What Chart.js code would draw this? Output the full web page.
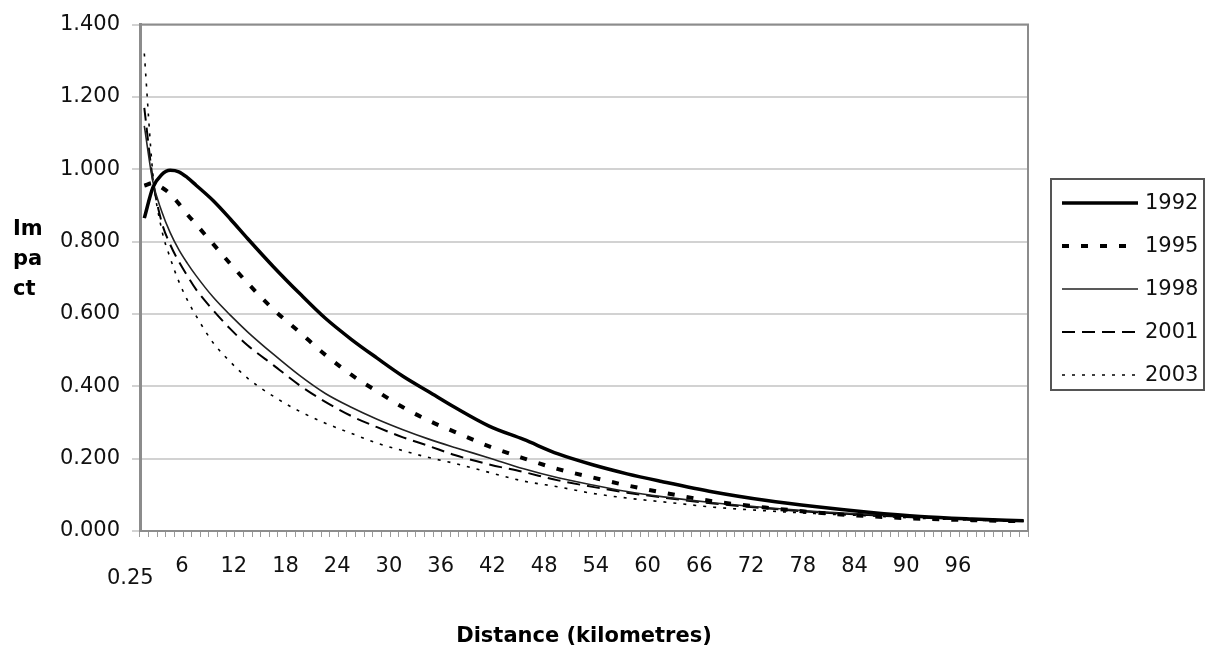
<!DOCTYPE html>
<html>
<head>
    <meta charset="utf-8">
    <title>Impact by distance</title>
    <script src="https://cdn.jsdelivr.net/npm/chart.js"></script>
    <style>
        body { margin: 0; background: #fff; }
        #wrap { position: relative; width: 1207px; height: 655px; }
    </style>
</head>
<body>
<div id="wrap">
    <canvas id="impactChart" width="1207" height="655"></canvas>
</div>
<script>
    // x axis categories (km)
    const distanceKm = ['0.25', '1', '2', '3', '4', '5', '6', '7', '8', '9', '10', '11', '12', '13', '14', '15', '16', '17', '18', '19',
        '20', '21', '22', '23', '24', '25', '26', '27', '28', '29', '30', '31', '32', '33', '34', '35', '36', '37', '38', '39',
        '40', '41', '42', '43', '44', '45', '46', '47', '48', '49', '50', '51', '52', '53', '54', '55', '56', '57', '58', '59',
        '60', '61', '62', '63', '64', '65', '66', '67', '68', '69', '70', '71', '72', '73', '74', '75', '76', '77', '78', '79',
        '80', '81', '82', '83', '84', '85', '86', '87', '88', '89', '90', '91', '92', '93', '94', '95', '96', '97', '98', '99',
        '100', '101', '102'];
    const labelEvery = 6;
    const lastLabelIndex = 96;

    const sampleKm = ['0.25', '1', '2', '3', '4', '5', '6', '8', '10', '12', '15', '18', '21', '24', '27', '30', '33', '36',
        '40', '44', '48', '52', '56', '60', '66', '72', '78', '84', '90', '96', '102'];

    const impact1992 = [0.865, 0.950, 0.985, 0.997, 0.993, 0.977, 0.956, 0.913, 0.862, 0.808, 0.730, 0.657, 0.588, 0.530, 0.478, 0.428,
        0.385, 0.342, 0.290, 0.253, 0.213, 0.183, 0.158, 0.137, 0.108, 0.085, 0.067, 0.052, 0.040, 0.033, 0.028];
    const impact1995 = [0.955, 0.962, 0.950, 0.932, 0.905, 0.875, 0.848, 0.793, 0.738, 0.685, 0.612, 0.550, 0.487, 0.432, 0.386, 0.342,
        0.305, 0.274, 0.234, 0.201, 0.171, 0.148, 0.126, 0.107, 0.082, 0.065, 0.051, 0.041, 0.034, 0.030, 0.027];
    const impact1998 = [1.120, 0.965, 0.885, 0.825, 0.778, 0.740, 0.706, 0.646, 0.596, 0.550, 0.488, 0.430, 0.380, 0.342, 0.309, 0.280,
        0.254, 0.231, 0.202, 0.172, 0.147, 0.127, 0.109, 0.095, 0.078, 0.065, 0.054, 0.046, 0.039, 0.033, 0.028];
    const impact2001 = [1.170, 0.970, 0.855, 0.792, 0.745, 0.705, 0.668, 0.610, 0.558, 0.513, 0.458, 0.403, 0.357, 0.318, 0.287, 0.259,
        0.235, 0.210, 0.184, 0.163, 0.140, 0.122, 0.106, 0.093, 0.076, 0.063, 0.052, 0.044, 0.037, 0.031, 0.027];
    const impact2003 = [1.320, 0.985, 0.835, 0.755, 0.690, 0.638, 0.595, 0.520, 0.467, 0.422, 0.372, 0.331, 0.298, 0.270, 0.243, 0.222,
        0.203, 0.187, 0.162, 0.138, 0.122, 0.104, 0.091, 0.081, 0.066, 0.056, 0.048, 0.042, 0.035, 0.030, 0.027];

    const seriesNames = ['1992', '1995', '1998', '2001', '2003'];
    const seriesValues = [impact1992, impact1995, impact1998, impact2001, impact2003];

    // line look per series (width, dash)
    const seriesLook = [
        { width: 3.5, dash: [] },
        { width: 4, dash: [7, 12] },
        { width: 1.6, dash: [] },
        { width: 2, dash: [13, 7] },
        { width: 1.6, dash: [3, 7] }
    ];

    const FONT = '"DejaVu Sans", Verdana, sans-serif';
    Chart.defaults.font.family = FONT;
    Chart.defaults.color = '#111';

    const datasets = seriesNames.map((name, i) => ({
        label: name,
        data: sampleKm.map((km, j) => ({ x: km, y: seriesValues[i][j] })),
        borderColor: i === 2 ? '#222' : '#000',
        borderWidth: seriesLook[i].width,
        borderDash: seriesLook[i].dash,
        pointRadius: 0,
        fill: false,
        cubicInterpolationMode: 'monotone'
    }));

    // frame, unrotated y title and boxed legend (Excel style)
    const decorations = {
        id: 'decorations',
        afterDraw(chart) {
            const ctx = chart.ctx;
            const a = chart.chartArea;
            ctx.save();
            ctx.strokeStyle = '#8c8c8c';
            ctx.lineWidth = 2;
            ctx.beginPath();
            ctx.moveTo(a.left, a.top);
            ctx.lineTo(a.right, a.top);
            ctx.lineTo(a.right, a.bottom);
            ctx.stroke();

            ctx.fillStyle = '#000';
            ctx.font = 'bold 21px ' + FONT;
            ctx.textAlign = 'left';
            ctx.textBaseline = 'alphabetic';
            ['Im', 'pa', 'ct'].forEach((t, i) => ctx.fillText(t, 13, 235 + i * 30));

            // legend
            ctx.strokeStyle = '#555';
            ctx.lineWidth = 2;
            ctx.strokeRect(1051, 179, 153, 211);
            ctx.font = '21px ' + FONT;
            ctx.textBaseline = 'middle';
            chart.data.datasets.forEach((ds, i) => {
                const y = 203 + i * 43;
                ctx.setLineDash(ds.borderDash);
                ctx.lineWidth = ds.borderWidth;
                ctx.strokeStyle = ds.borderColor;
                ctx.beginPath();
                ctx.moveTo(1062, y);
                ctx.lineTo(1138, y);
                ctx.stroke();
                ctx.setLineDash([]);
                ctx.fillStyle = '#111';
                ctx.fillText(ds.label, 1145, y + 1);
            });
            ctx.restore();
        }
    };

    new Chart(document.getElementById('impactChart'), {
        type: 'line',
        data: { labels: distanceKm, datasets: datasets },
        options: {
            responsive: false,
            animation: false,
            layout: { padding: { top: 22, right: 179, bottom: 0, left: 0 } },
            plugins: {
                legend: { display: false },
                tooltip: { enabled: false }
            },
            scales: {
                x: {
                    type: 'category',
                    offset: true,
                    afterFit: (scale) => { scale.height = 124; },
                    grid: { drawOnChartArea: false, drawTicks: true, tickLength: 6, color: '#9a9a9a', offset: true },
                    border: { color: '#8c8c8c', width: 2 },
                    ticks: {
                        autoSkip: false,
                        maxRotation: 0,
                        padding: 23,
                        labelOffset: -14,
                        font: { size: 21, lineHeight: 0.6 },
                        callback: function (value, index) {
                            if (index === 0) return ['', this.getLabelForValue(value)];
                            if (index > lastLabelIndex) return '';
                            return index % labelEvery === 0 ? this.getLabelForValue(value) : '';
                        }
                    },
                    title: {
                        display: true,
                        text: 'Distance (kilometres)',
                        font: { size: 21, weight: 'bold' },
                        color: '#000',
                        padding: { top: 0, bottom: 6 }
                    }
                },
                y: {
                    min: 0,
                    max: 1.4,
                    afterFit: (scale) => { scale.width = 140; },
                    grid: { color: '#d2d2d2', lineWidth: 2, tickLength: 8 },
                    border: { color: '#8c8c8c', width: 3 },
                    ticks: {
                        stepSize: 0.2,
                        padding: 12,
                        font: { size: 21 },
                        callback: (v) => v.toFixed(3)
                    }
                }
            }
        },
        plugins: [decorations]
    });
</script>
</body>
</html>
